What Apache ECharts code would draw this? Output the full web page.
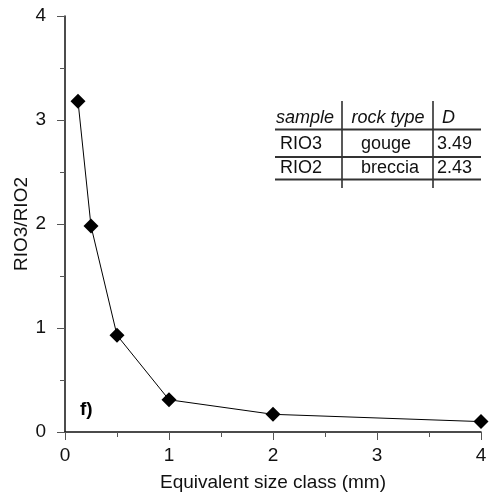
<!DOCTYPE html>
<html><head><meta charset="utf-8">
<script src="https://cdn.jsdelivr.net/npm/echarts@6/dist/echarts.min.js"></script>
<style>html,body{margin:0;padding:0;background:#fff}#c{width:489px;height:496px}</style>
</head><body><div id="c"></div>
<script>
var sizeClass = [0.125, 0.25, 0.5, 1, 2, 4];
var ratio = [3.18, 1.98, 0.93, 0.31, 0.17, 0.10];
var xTicks = [0, 1, 2, 3, 4];
var yTicks = [0, 1, 2, 3, 4];
var tableHeader = ['sample', 'rock type', 'D'];
var tableRows = [['RIO3', 'gouge', '3.49'], ['RIO2', 'breccia', '2.43']];

var font = 'Liberation Sans, Arial, sans-serif';
var chart = echarts.init(document.getElementById('c'));
var g = [];
g.push({type:'line', shape:{x1:342,y1:101,x2:342,y2:188}, style:{stroke:'#222',lineWidth:1.5}});
g.push({type:'line', shape:{x1:433,y1:101,x2:433,y2:188}, style:{stroke:'#222',lineWidth:1.5}});
[129.5,157,179.5].forEach(function(y){
  g.push({type:'line', shape:{x1:275,y1:y,x2:481,y2:y}, style:{stroke:'#333',lineWidth:2}});
});
var colX = [305, 388, 442];
var colAlign = ['center','center','left'];
tableHeader.forEach(function(t,i){
  g.push({type:'text', style:{text:t, x:colX[i], y:117.5, align:colAlign[i], verticalAlign:'middle', font:'italic 18px '+font, fill:'#111'}});
});
var rowX = [280, 361, 437];
var rowAlign = ['left','left','left'];
tableRows.forEach(function(r,j){
  r.forEach(function(t,i){
    g.push({type:'text', style:{text:t, x:rowX[i], y:144+j*24.5, align:rowAlign[i], verticalAlign:'middle', font:'18px '+font, fill:'#111'}});
  });
});
g.push({type:'text', style:{text:'f)', x:80, y:410, align:'left', verticalAlign:'middle', font:'bold 19px '+font, fill:'#000'}});

chart.setOption({
  animation:false,
  grid:{left:65, right:8, top:16, bottom:64, containLabel:false, outerBoundsMode:'none'},
  xAxis:{type:'value', min:xTicks[0], max:xTicks[xTicks.length-1], interval:1,
    name:'Equivalent size class (mm)', nameLocation:'middle', nameGap:41, nameMoveOverlap:false,
    nameTextStyle:{fontFamily:font, fontSize:19, color:'#111'},
    axisLine:{onZero:false, lineStyle:{color:'#111', width:1.5}},
    axisTick:{length:8, lineStyle:{color:'#555', width:1}},
    minorTick:{show:true, splitNumber:2, length:5, lineStyle:{color:'#555', width:1}},
    axisLabel:{fontFamily:font, fontSize:19, color:'#111', margin:14},
    splitLine:{show:false}},
  yAxis:{type:'value', min:yTicks[0], max:yTicks[yTicks.length-1], interval:1,
    name:'RIO3/RIO2', nameLocation:'middle', nameGap:34, nameMoveOverlap:false,
    nameTextStyle:{fontFamily:font, fontSize:19, color:'#111'},
    axisLine:{show:true, lineStyle:{color:'#111', width:1.5}},
    axisTick:{show:true, length:8, lineStyle:{color:'#555', width:1}},
    minorTick:{show:true, splitNumber:2, length:5, lineStyle:{color:'#555', width:1}},
    axisLabel:{fontFamily:font, fontSize:19, color:'#111', margin:19},
    splitLine:{show:false}},
  series:[{type:'line', data:sizeClass.map(function(x,i){return [x, ratio[i]];}),
    symbol:'diamond', symbolSize:15, showAllSymbol:true,
    lineStyle:{color:'#000', width:1}, itemStyle:{color:'#000'}}],
  graphic:g
});
</script></body></html>
